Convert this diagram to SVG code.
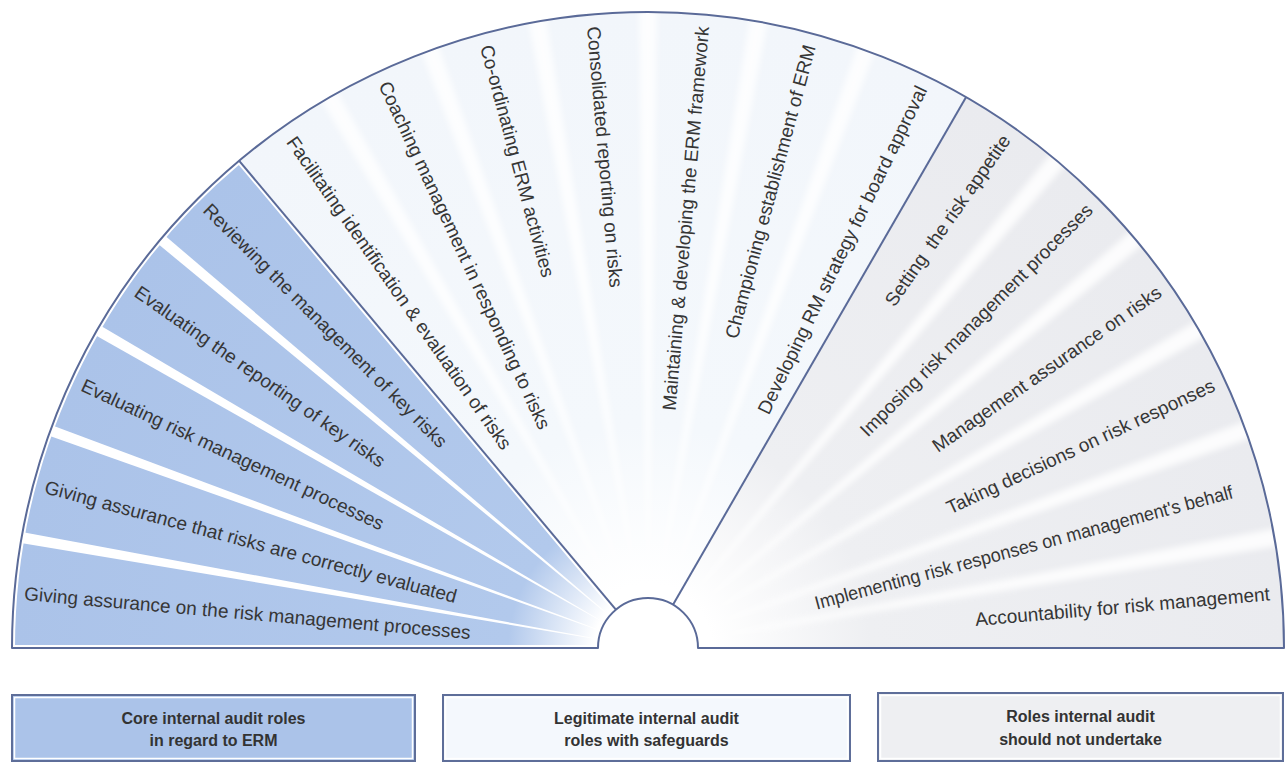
<svg xmlns="http://www.w3.org/2000/svg" width="1288" height="763" viewBox="0 0 1288 763">
  <style>
    .lbl { font-family: "Liberation Sans", Arial, sans-serif; font-size: 19px; fill: #363636; }
    .lft { text-anchor: start; }
    .rgt { text-anchor: end; }
    .key { font-family: "Liberation Sans", Arial, sans-serif; font-size: 16px; font-weight: bold; fill: #333; text-anchor: middle; }
    .edge { fill: none; stroke: #5a6a98; stroke-width: 2; stroke-linejoin: round; }
    .sheen { fill: none; stroke: #ffffff; stroke-width: 6; stroke-linejoin: round; }
    .box { stroke: #5e6e99; stroke-width: 2; }
    .boxin { fill: none; stroke: #ffffff; stroke-width: 1.5; }
  </style>
  <defs>
    <radialGradient id="gBlue" gradientUnits="userSpaceOnUse" cx="648" cy="648" r="636">
      <stop offset="0" stop-color="#ffffff"/>
      <stop offset="0.085" stop-color="#ffffff"/>
      <stop offset="0.22" stop-color="#b2c9ec"/>
      <stop offset="1" stop-color="#abc3e9"/>
    </radialGradient>
    <radialGradient id="gMid" gradientUnits="userSpaceOnUse" cx="648" cy="648" r="636">
      <stop offset="0" stop-color="#ffffff"/>
      <stop offset="0.1" stop-color="#ffffff"/>
      <stop offset="0.35" stop-color="#f4f8fc"/>
      <stop offset="1" stop-color="#f2f6fb"/>
    </radialGradient>
    <radialGradient id="gGrey" gradientUnits="userSpaceOnUse" cx="648" cy="648" r="636">
      <stop offset="0" stop-color="#ffffff"/>
      <stop offset="0.1" stop-color="#ffffff"/>
      <stop offset="0.35" stop-color="#eeeff2"/>
      <stop offset="1" stop-color="#eaebef"/>
    </radialGradient>
    <filter id="soft" x="-10%" y="-10%" width="120%" height="120%">
      <feGaussianBlur stdDeviation="3"/>
    </filter>
    <clipPath id="cBlue"><path d="M 615.9 609.7 L 239.2 160.8 A 636 636 0 0 0 12 648 L 598 648 A 50 50 0 0 1 615.9 609.7 Z"/></clipPath>
    <clipPath id="cMid"><path d="M 673 604.7 L 966 97.2 A 636 636 0 0 0 239.2 160.8 L 615.9 609.7 A 50 50 0 0 1 673 604.7 Z"/></clipPath>
    <clipPath id="cGrey"><path d="M 698 648 L 1284 648 A 636 636 0 0 0 966 97.2 L 673 604.7 A 50 50 0 0 1 698 648 Z"/></clipPath>
    <polygon id="ray" points="55,-0.4 645,-5.5 645,5.5 55,0.4"/>
    <polygon id="wideRay" points="55,-1 645,-9 645,9 55,1"/>
  </defs>

  <rect width="1288" height="763" fill="#ffffff"/>

  <!-- fan sectors -->
  <g id="sector-core">
    <path d="M 615.9 609.7 L 239.2 160.8 A 636 636 0 0 0 12 648 L 598 648 A 50 50 0 0 1 615.9 609.7 Z" fill="url(#gBlue)"/>
    <g clip-path="url(#cBlue)" fill="#ffffff">
      <use href="#ray" transform="translate(648,648) rotate(-140)"/>
      <use href="#ray" transform="translate(648,648) rotate(-150)"/>
      <use href="#ray" transform="translate(648,648) rotate(-160)"/>
      <use href="#ray" transform="translate(648,648) rotate(-170)"/>
    </g>
    <path class="sheen" clip-path="url(#cBlue)" d="M 615.9 609.7 L 239.2 160.8 A 636 636 0 0 0 12 648 L 598 648 A 50 50 0 0 1 615.9 609.7 Z"/>
  </g>

  <g id="sector-legit">
    <path d="M 673 604.7 L 966 97.2 A 636 636 0 0 0 239.2 160.8 L 615.9 609.7 A 50 50 0 0 1 673 604.7 Z" fill="url(#gMid)"/>
    <g clip-path="url(#cMid)" fill="#ffffff" opacity="0.8">
      <g filter="url(#soft)">
        <use href="#wideRay" transform="translate(648,648) rotate(-70)"/>
        <use href="#wideRay" transform="translate(648,648) rotate(-80)"/>
        <use href="#wideRay" transform="translate(648,648) rotate(-90)"/>
        <use href="#wideRay" transform="translate(648,648) rotate(-100)"/>
        <use href="#wideRay" transform="translate(648,648) rotate(-110)"/>
        <use href="#wideRay" transform="translate(648,648) rotate(-120)"/>
      </g>
    </g>
  </g>

  <g id="sector-excluded">
    <path d="M 698 648 L 1284 648 A 636 636 0 0 0 966 97.2 L 673 604.7 A 50 50 0 0 1 698 648 Z" fill="url(#gGrey)"/>
    <g clip-path="url(#cGrey)" fill="#ffffff" opacity="0.85">
      <g filter="url(#soft)">
        <use href="#wideRay" transform="translate(648,648) rotate(-10)"/>
        <use href="#wideRay" transform="translate(648,648) rotate(-20)"/>
        <use href="#wideRay" transform="translate(648,648) rotate(-30)"/>
        <use href="#wideRay" transform="translate(648,648) rotate(-40)"/>
        <use href="#wideRay" transform="translate(648,648) rotate(-50)"/>
      </g>
    </g>
  </g>

  <!-- outline and sector dividers -->
  <g id="outline">
    <path class="edge" d="M 12 648 A 636 636 0 0 1 1284 648 L 698 648 A 50 50 0 0 0 598 648 Z"/>
    <path class="edge" d="M 615.9 609.7 L 239.2 160.8"/>
    <path class="edge" d="M 673 604.7 L 966 97.2"/>
  </g>

  <!-- role labels, laid out along the rays of the fan -->
  <g id="labels-core" class="lbl lft">
    <text transform="translate(648,648) rotate(5)" x="-626" dy="0.35em">Giving assurance on the risk management processes</text>
    <text transform="translate(648,648) rotate(15)" x="-624" dy="0.35em">Giving assurance that risks are correctly evaluated</text>
    <text transform="translate(648,648) rotate(25)" x="-624" dy="0.35em">Evaluating risk management processes</text>
    <text transform="translate(648,648) rotate(35)" x="-624" dy="0.35em">Evaluating the reporting of key risks</text>
    <text transform="translate(648,648) rotate(45)" x="-624" dy="0.35em">Reviewing the management of key risks</text>
  </g>
  <g id="labels-legit-a" class="lbl lft">
    <text transform="translate(648,648) rotate(55)" x="-622" dy="0.35em">Facilitating identification &amp; evaluation of risks</text>
    <text transform="translate(648,648) rotate(65)" x="-624" dy="0.35em">Coaching management in responding to risks</text>
    <text transform="translate(648,648) rotate(75)" x="-624" dy="0.35em">Co-ordinating ERM activities</text>
    <text transform="translate(648,648) rotate(85)" x="-624" dy="0.35em">Consolidated reporting on risks</text>
  </g>
  <g id="labels-legit-b" class="lbl rgt">
    <text transform="translate(648,648) rotate(-85)" x="624" dy="0.35em">Maintaining &amp; developing the ERM framework</text>
    <text transform="translate(648,648) rotate(-75)" x="624" dy="0.35em">Championing establishment of ERM</text>
    <text transform="translate(648,648) rotate(-64)" x="624" dy="0.35em">Developing RM strategy for board approval</text>
  </g>
  <g id="labels-excluded" class="lbl rgt">
    <text transform="translate(648,648) rotate(-55)" x="624" dy="0.35em" xml:space="preserve">Setting  the risk appetite</text>
    <text transform="translate(648,648) rotate(-45)" x="624" dy="0.35em">Imposing risk management processes</text>
    <text transform="translate(648,648) rotate(-35)" x="624" dy="0.35em">Management assurance on risks</text>
    <text transform="translate(648,648) rotate(-25)" x="624" dy="0.35em">Taking decisions on risk responses</text>
    <text transform="translate(648,648) rotate(-15)" x="605" dy="0.35em" textLength="432" lengthAdjust="spacingAndGlyphs">Implementing risk responses on management's behalf</text>
    <text transform="translate(648,648) rotate(-5)" x="624" dy="0.35em">Accountability for risk management</text>
  </g>

  <!-- key -->
  <g id="key-core">
    <rect class="box" x="12" y="695" width="403" height="66" fill="#abc3e9"/>
    <rect class="boxin" x="14.5" y="697.5" width="398" height="61"/>
    <text class="key" x="213.5" y="724">Core internal audit roles</text>
    <text class="key" x="213.5" y="746">in regard to ERM</text>
  </g>
  <g id="key-legit">
    <rect class="box" x="443" y="695" width="407" height="66" fill="#f4f8fd"/>
    <rect class="boxin" x="445.5" y="697.5" width="402" height="61"/>
    <text class="key" x="646.5" y="724">Legitimate internal audit</text>
    <text class="key" x="646.5" y="746">roles with safeguards</text>
  </g>
  <g id="key-excluded">
    <rect class="box" x="878" y="693" width="405" height="68" fill="#eeeff2"/>
    <rect class="boxin" x="880.5" y="695.5" width="400" height="63"/>
    <text class="key" x="1080.5" y="722">Roles internal audit</text>
    <text class="key" x="1080.5" y="745">should not undertake</text>
  </g>
</svg>
